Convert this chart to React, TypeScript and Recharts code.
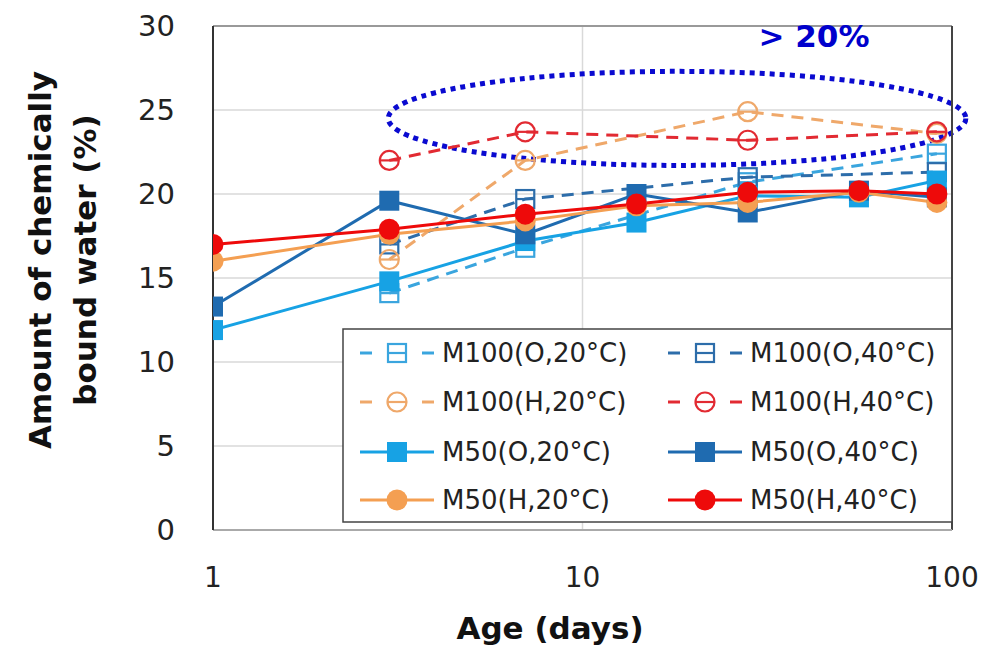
import { LineChart, Line, XAxis, YAxis, CartesianGrid, ReferenceLine, ReferenceArea } from "recharts";

// curing age in days (log axis)
const ages = [1, 3, 7, 14, 28, 56, 91];

// chemically bound water (%), null = not measured
const m100O20 = [null, 14.1, 16.8, null, 20.7, null, 22.4];
const m100O40 = [null, 17.0, 19.7, null, 21.0, null, 21.3];
const m100H20 = [null, 16.1, 22.0, null, 24.9, null, 23.6];
const m100H40 = [null, 22.0, 23.7, null, 23.2, null, 23.7];
const m50O20 = [11.9, 14.8, 17.2, 18.3, 19.9, 19.8, 20.8];
const m50O40 = [13.3, 19.6, 17.6, 20.0, 18.9, 20.2, 19.8];
const m50H20 = [16.0, 17.6, 18.4, 19.3, 19.5, 20.1, 19.5];
const m50H40 = [17.0, 17.9, 18.8, 19.4, 20.1, 20.2, 20.0];

const xTicks = [1, 10, 100];
const yTicks = [0, 5, 10, 15, 20, 25, 30];

const FONT = "DejaVu Sans";

const series = [
  { key: "m100O20", name: "M100(O,20°C)", values: m100O20, color: "#3AA5DE", dashed: true, shape: "square", filled: false },
  { key: "m100O40", name: "M100(O,40°C)", values: m100O40, color: "#2D6DAA", dashed: true, shape: "square", filled: false },
  { key: "m100H20", name: "M100(H,20°C)", values: m100H20, color: "#EFA86A", dashed: true, shape: "circle", filled: false },
  { key: "m100H40", name: "M100(H,40°C)", values: m100H40, color: "#E22A32", dashed: true, shape: "circle", filled: false },
  { key: "m50O20", name: "M50(O,20°C)", values: m50O20, color: "#17A2E4", dashed: false, shape: "square", filled: true },
  { key: "m50O40", name: "M50(O,40°C)", values: m50O40, color: "#1F6BB0", dashed: false, shape: "square", filled: true },
  { key: "m50H20", name: "M50(H,20°C)", values: m50H20, color: "#F49F52", dashed: false, shape: "circle", filled: true },
  { key: "m50H40", name: "M50(H,40°C)", values: m50H40, color: "#EE0A0A", dashed: false, shape: "circle", filled: true },
];

const data = ages.map((age, i) => {
  const row: Record<string, number | null> = { age };
  series.forEach((s) => {
    row[s.key] = s.values[i];
  });
  return row;
});

function Marker({ s, cx, cy }: { s: any; cx: number; cy: number }) {
  if (s.shape === "square") {
    if (s.filled) return <rect x={cx - 10} y={cy - 10} width={20} height={20} fill={s.color} />;
    return (
      <g>
        <rect x={cx - 9} y={cy - 9} width={18} height={18} fill="none" stroke={s.color} strokeWidth={2.2} />
        <line x1={cx - 9} x2={cx + 9} y1={cy} y2={cy} stroke={s.color} strokeWidth={2.2} />
      </g>
    );
  }
  if (s.filled) return <circle cx={cx} cy={cy} r={10.5} fill={s.color} />;
  return (
    <g>
      <circle cx={cx} cy={cy} r={9.5} fill="none" stroke={s.color} strokeWidth={2.2} />
      <line x1={cx - 9.5} x2={cx + 9.5} y1={cy} y2={cy} stroke={s.color} strokeWidth={2.2} />
    </g>
  );
}

const dotFor = (s: any) => (p: any) => {
  if (p.cx == null || p.cy == null || p.value == null) return <g key={`${s.key}-${p.index}`} />;
  return (
    <g key={`${s.key}-${p.index}`}>
      <Marker s={s} cx={p.cx} cy={p.cy} />
    </g>
  );
};

const dottedEllipse = (p: any) => {
  const w = Math.abs(p.width);
  const h = Math.abs(p.height);
  const x = Math.min(p.x, p.x + p.width);
  const y = Math.min(p.y, p.y + p.height);
  return (
    <ellipse cx={x + w / 2} cy={y + h / 2} rx={w / 2} ry={h / 2} fill="none" stroke="#0A0AD0" strokeWidth={5} strokeDasharray="5 5" />
  );
};

function LegendBox() {
  const cols = [360, 668];
  const rows = [353, 402, 452, 500];
  return (
    <g>
      <rect x={343} y={329} width={609} height={193} fill="#fff" stroke="#444" strokeWidth={1.5} />
      {series.map((s, i) => {
        const x0 = cols[i % 2];
        const cy = rows[Math.floor(i / 2)];
        const mid = x0 + 37;
        return (
          <g key={s.key}>
            {s.dashed ? (
              <>
                <line x1={x0} x2={x0 + 12} y1={cy} y2={cy} stroke={s.color} strokeWidth={3} />
                <line x1={x0 + 62} x2={x0 + 74} y1={cy} y2={cy} stroke={s.color} strokeWidth={3} />
              </>
            ) : (
              <line x1={x0} x2={x0 + 74} y1={cy} y2={cy} stroke={s.color} strokeWidth={3} />
            )}
            <Marker s={s} cx={mid} cy={cy} />
            <text x={x0 + 82} y={cy} dominantBaseline="central" fontFamily={FONT} fontSize={26} fill="#222">
              {s.name}
            </text>
          </g>
        );
      })}
    </g>
  );
}

export default function App() {
  return (
    <div style={{ position: "absolute", left: 0, top: 0, width: 988, height: 650, background: "#fff" }}>
      <LineChart width={988} height={650} data={data} margin={{ top: 26, right: 36, left: 0, bottom: 0 }}>
        <CartesianGrid stroke="#d9d9d9" strokeWidth={1.5} />
        <XAxis
          dataKey="age"
          type="number"
          scale="log"
          domain={[1, 100]}
          ticks={xTicks}
          allowDataOverflow
          height={120}
          tickLine={false}
          tickSize={0}
          tickMargin={37}
          axisLine={{ stroke: "#aaa", strokeWidth: 2 }}
          tick={{ fontFamily: FONT, fontSize: 28, fill: "#222" }}
        />
        <YAxis
          type="number"
          domain={[0, 30]}
          ticks={yTicks}
          width={213}
          tickLine={false}
          tickSize={0}
          tickMargin={38}
          axisLine={{ stroke: "#333", strokeWidth: 2 }}
          tick={{ fontFamily: FONT, fontSize: 29, fill: "#222" }}
        />
        <ReferenceLine y={30} stroke="#999" strokeWidth={2} />
        <ReferenceLine x={100} stroke="#444" strokeWidth={2} />
        {series.map((s) => (
          <Line
            key={s.key}
            dataKey={s.key}
            name={s.name}
            type="linear"
            stroke={s.color}
            strokeWidth={3}
            strokeDasharray={s.dashed ? "12 8" : undefined}
            connectNulls
            dot={dotFor(s)}
            activeDot={false}
            isAnimationActive={false}
          />
        ))}
        <ReferenceArea x1={2.98} x2={109} y1={21.7} y2={27.3} ifOverflow="visible" shape={dottedEllipse} />
      </LineChart>
      <svg width={988} height={650} style={{ position: "absolute", left: 0, top: 0, pointerEvents: "none" }}>
        <LegendBox />
        <text x={814} y={36} textAnchor="middle" dominantBaseline="central" fontFamily={FONT} fontWeight="bold" fontSize={31} fill="#0000CC">
          {"> 20%"}
        </text>
        <text x={550} y={628} textAnchor="middle" dominantBaseline="central" fontFamily={FONT} fontWeight="bold" fontSize={31} fill="#111">
          Age (days)
        </text>
        <g transform="translate(40,260) rotate(-90)">
          <text x={0} y={0} textAnchor="middle" dominantBaseline="central" fontFamily={FONT} fontWeight="bold" fontSize={31} fill="#111">
            Amount of chemically
          </text>
        </g>
        <g transform="translate(85,260) rotate(-90)">
          <text x={0} y={0} textAnchor="middle" dominantBaseline="central" fontFamily={FONT} fontWeight="bold" fontSize={31} fill="#111">
            bound water (%)
          </text>
        </g>
      </svg>
    </div>
  );
}
